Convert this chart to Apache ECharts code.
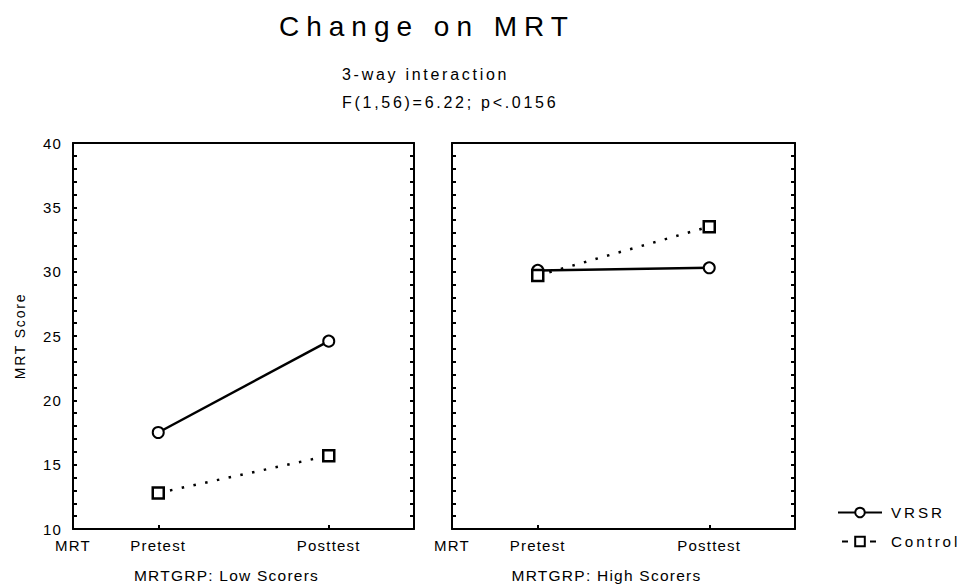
<!DOCTYPE html>
<html>
<head>
<meta charset="utf-8">
<script src="https://cdn.jsdelivr.net/npm/echarts@6/dist/echarts.min.js"></script>
<style>
html,body{margin:0;padding:0;background:#fff;}
#chart{width:970px;height:588px;}
</style>
</head>
<body>
<div id="chart"></div>
<script>
// ---- data ----
var xCategories = ['MRT', 'Pretest', '', 'Posttest', ''];
var groupNames = ['MRTGRP: Low Scorers', 'MRTGRP: High Scorers'];
var seriesNames = ['VRSR', 'Control'];
var lowVRSR     = [null, 17.5, null, 24.6, null];
var lowControl  = [null, 12.8, null, 15.7, null];
var highVRSR    = [null, 30.1, null, 30.3, null];
var highControl = [null, 29.7, null, 33.5, null];
var yMin = 10, yMax = 40, yStep = 1, yLabelStep = 5;
var titleText = 'Change on MRT';
var subText1 = '3-way interaction';
var subText2 = 'F(1,56)=6.22; p<.0156';
var yName = 'MRT Score';

var FONT = '"Liberation Sans", Arial, Helvetica, sans-serif';
var BLACK = '#000';

function bottomX(gi, name) {
  return {
    type: 'category', gridIndex: gi, position: 'bottom', data: xCategories, boundaryGap: false,
    axisLine: {lineStyle: {color: BLACK, width: 2}},
    axisTick: {show: true, inside: true, length: 4, lineStyle: {color: BLACK, width: 2},
      interval: function (i, v) { return v === 'Pretest' || v === 'Posttest'; }},
    axisLabel: {color: BLACK, fontFamily: FONT, fontSize: 15, margin: 9, interval: 0},
    name: name, nameLocation: 'middle', nameGap: 38,
    nameTextStyle: {color: BLACK, fontFamily: FONT, fontSize: 15.5, padding: [0, 34, 0, 0]},
    splitLine: {show: false}
  };
}
function topX(gi) {
  return {
    type: 'category', gridIndex: gi, position: 'top', data: xCategories, boundaryGap: false,
    axisLine: {lineStyle: {color: BLACK, width: 2}},
    axisTick: {show: false}, axisLabel: {show: false}, splitLine: {show: false}
  };
}
function yAx(gi, pos, showLabel, name) {
  var o = {
    type: 'value', gridIndex: gi, position: pos, min: yMin, max: yMax, interval: yStep,
    axisLine: {show: true, lineStyle: {color: BLACK, width: 2}},
    axisTick: {show: true, inside: true, length: 4, lineStyle: {color: BLACK, width: 2}},
    axisLabel: {show: showLabel, color: BLACK, fontFamily: FONT, fontSize: 15, margin: 11,
      formatter: function (v) { return (v % yLabelStep === 0) ? String(v) : ''; }},
    splitLine: {show: false}
  };
  if (name) {
    o.name = name; o.nameLocation = 'middle'; o.nameRotate = 90; o.nameGap = 46;
    o.nameTextStyle = {color: BLACK, fontFamily: FONT, fontSize: 14};
  }
  return o;
}
function lineSeries(name, data, xi, yi, ctrl) {
  return {
    type: 'line', name: name, data: data, xAxisIndex: xi, yAxisIndex: yi, connectNulls: true,
    symbol: ctrl ? 'rect' : 'circle', symbolSize: 11, showSymbol: true,
    lineStyle: ctrl ? {color: BLACK, width: 2.5, type: [2.5, 9.5]} : {color: BLACK, width: 2.5},
    itemStyle: {color: '#fff', borderColor: BLACK, borderWidth: ctrl ? 2.5 : 2},
    z: ctrl ? 3 : 2,
    emphasis: {disabled: true}, silent: true
  };
}

var chart = echarts.init(document.getElementById('chart'), null, {renderer: 'svg'});
chart.setOption({
  animation: false,
  backgroundColor: '#fff',
  title: [
    {text: titleText, left: 274, top: 7, textStyle: {color: BLACK, fontFamily: FONT, fontSize: 28, fontWeight: 'normal'}},
    {text: subText1, left: 337, top: 61, textStyle: {color: BLACK, fontFamily: FONT, fontSize: 16, fontWeight: 'normal'}},
    {text: subText2, left: 337, top: 89, textStyle: {color: BLACK, fontFamily: FONT, fontSize: 16, fontWeight: 'normal'}}
  ],
  legend: {
    orient: 'vertical', left: 832, top: 500, itemWidth: 44, itemHeight: 12, itemGap: 14,
    textStyle: {color: BLACK, fontFamily: FONT, fontSize: 15.2, padding: [0, 0, 0, 4]},
    data: [
      {name: 'VRSR'},
      {name: 'Control', lineStyle: {type: [6, 22], dashOffset: -4, width: 2}}
    ],
    selectedMode: false
  },
  grid: [
    {left: 73, top: 143, width: 341, height: 387},
    {left: 452, top: 143, width: 343, height: 387}
  ],
  xAxis: [bottomX(0, groupNames[0]), topX(0), bottomX(1, groupNames[1]), topX(1)],
  yAxis: [yAx(0, 'left', true, yName), yAx(0, 'right', false), yAx(1, 'left', false), yAx(1, 'right', false)],
  series: [
    lineSeries(seriesNames[0], lowVRSR, 0, 0, false),
    lineSeries(seriesNames[1], lowControl, 0, 0, true),
    lineSeries(seriesNames[0], highVRSR, 2, 2, false),
    lineSeries(seriesNames[1], highControl, 2, 2, true)
  ]
});

function applySpacing() {
  var texts = document.querySelectorAll('#chart text');
  texts.forEach(function (t) {
    var fs = parseFloat(getComputedStyle(t).fontSize) || 12;
    var k = 0.08;
    if (Math.abs(fs - 28) < 0.3) k = 0.25;
    else if (Math.abs(fs - 16) < 0.2) k = 0.17;
    else if (Math.abs(fs - 15.2) < 0.1) k = 0.19;
    else if (Math.abs(fs - 14) < 0.2) k = 0.13;
    t.style.letterSpacing = (k * fs).toFixed(2) + 'px';
  });
}
chart.on('finished', applySpacing);
applySpacing();
setTimeout(applySpacing, 50);
</script>
</body>
</html>
